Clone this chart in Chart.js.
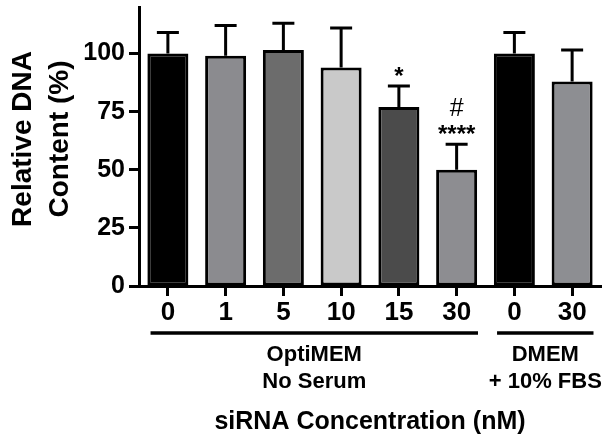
<!DOCTYPE html>
<html>
<head>
<meta charset="utf-8">
<script src="https://cdn.jsdelivr.net/npm/chart.js@4"></script>
<style>
  body { margin: 0; background: #fff; }
  #wrap { width: 608px; height: 443px; position: relative; }
</style>
</head>
<body>
<div id="wrap"><canvas id="dna-chart"></canvas></div>
<script>
// siRNA concentrations (nM) on the x axis
var concentrations = ['0', '1', '5', '10', '15', '30', '0', '30'];
// relative DNA content (%) and upper error (SD)
var dnaContent = [100, 99, 101.5, 94, 77, 50, 100, 88];
var dnaError = [9, 13, 11.5, 17, 9, 11, 9, 13.5];
var barColors = ['#000000', '#8b8b8f', '#6c6c6c', '#c9c9c9', '#4b4b4b', '#8d8d91', '#000000', '#8d8e92'];
// significance marks
var starMarks = ['', '', '', '', '*', '****', '', ''];
var hashMarks = ['', '', '', '', '', '#', '', ''];
// media groups under the axis
var groupNames = [['OptiMEM', 'No Serum'], ['DMEM', '+ 10% FBS']];
var groupFrom = [0, 6];
var groupTo = [5, 7];
var yTicks = [0, 25, 50, 75, 100];

var fontFamily = "'Liberation Sans', Arial, Helvetica, sans-serif";

var extrasPlugin = {
  id: 'extras',
  afterDatasetsDraw: function(chart) {
    var ctx = chart.ctx;
    var meta = chart.getDatasetMeta(0);
    var yScale = chart.scales.y;
    ctx.save();
    ctx.strokeStyle = '#000';
    ctx.fillStyle = '#000';
    ctx.lineWidth = 3;
    for (var i = 0; i < dnaContent.length; i++) {
      var x = meta.data[i].x;
      var yTop = yScale.getPixelForValue(dnaContent[i]);
      var yErr = yScale.getPixelForValue(dnaContent[i] + dnaError[i]);
      ctx.beginPath();
      ctx.moveTo(x, yTop);
      ctx.lineTo(x, yErr);
      ctx.moveTo(x - 11, yErr);
      ctx.lineTo(x + 11, yErr);
      ctx.stroke();

      ctx.textAlign = 'center';
      ctx.textBaseline = 'middle';
      if (starMarks[i]) {
        ctx.font = 'bold 24px ' + fontFamily;
        ctx.fillText(starMarks[i], x, yErr - 9);
      }
      if (hashMarks[i]) {
        ctx.font = '25px ' + fontFamily;
        ctx.fillText(hashMarks[i], x, yErr - 35);
      }
    }
    ctx.restore();
  },
  afterDraw: function(chart) {
    var ctx = chart.ctx;
    var xScale = chart.scales.x;
    var area = chart.chartArea;
    var step = xScale.getPixelForValue(1) - xScale.getPixelForValue(0);
    ctx.save();
    ctx.strokeStyle = '#000';
    ctx.fillStyle = '#000';
    ctx.lineWidth = 3.5;
    ctx.textAlign = 'center';
    ctx.textBaseline = 'middle';
    ctx.font = 'bold 22px ' + fontFamily;
    for (var g = 0; g < groupNames.length; g++) {
      var x1 = xScale.getPixelForValue(groupFrom[g]) - step * 0.3;
      var x2 = xScale.getPixelForValue(groupTo[g]) + step * 0.37;
      var yLine = area.bottom + 47;
      ctx.beginPath();
      ctx.moveTo(x1, yLine);
      ctx.lineTo(x2, yLine);
      ctx.stroke();
      var cx = (x1 + x2) / 2;
      ctx.fillText(groupNames[g][0], cx, yLine + 22);
      ctx.fillText(groupNames[g][1], cx, yLine + 49);
    }

    // y axis title, two lines
    ctx.font = 'bold 28px ' + fontFamily;
    var lines = ['Relative DNA', 'Content (%)'];
    for (var k = 0; k < lines.length; k++) {
      ctx.save();
      ctx.translate(23 + k * 37, 139);
      ctx.rotate(-Math.PI / 2);
      ctx.fillText(lines[k], 0, 0);
      ctx.restore();
    }
    ctx.restore();
  }
};

var ctx = document.getElementById('dna-chart').getContext('2d');
var chart = new Chart(ctx, {
  type: 'bar',
  data: {
    labels: concentrations,
    datasets: [{
      label: 'Relative DNA Content',
      data: dnaContent,
      backgroundColor: barColors,
      borderColor: '#000',
      borderWidth: 3,
      borderSkipped: false,
      barPercentage: 0.71,
      categoryPercentage: 1
    }]
  },
  options: {
    responsive: true,
    maintainAspectRatio: false,
    animation: false,
    layout: { padding: { top: 7, right: 7, left: 0, bottom: 0 } },
    plugins: {
      legend: { display: false },
      tooltip: { enabled: false }
    },
    scales: {
      x: {
        grid: {
          offset: false,
          drawOnChartArea: false,
          drawTicks: true,
          tickLength: 10,
          tickWidth: 3,
          tickColor: '#000'
        },
        border: { display: true, color: '#000', width: 3 },
        ticks: {
          color: '#000',
          padding: 1,
          maxRotation: 0,
          font: { family: fontFamily, size: 26, weight: 'bold' }
        },
        title: {
          display: true,
          text: 'siRNA Concentration (nM)',
          color: '#000',
          font: { family: fontFamily, size: 25, weight: 'bold' },
          padding: { top: 0, bottom: 6 }
        },
        afterFit: function(scale) {
          scale.height = 157;
          scale.paddingLeft = 0;
          scale.paddingRight = 0;
        }
      },
      y: {
        min: 0,
        max: 120,
        grid: {
          drawOnChartArea: false,
          drawTicks: true,
          tickLength: 10,
          tickWidth: 3,
          tickColor: '#000'
        },
        border: { display: true, color: '#000', width: 3 },
        ticks: {
          stepSize: 25,
          color: '#000',
          padding: 4,
          font: { family: fontFamily, size: 25, weight: 'bold' }
        },
        afterBuildTicks: function(scale) {
          scale.ticks = yTicks.map(function(v) { return { value: v }; });
        },
        afterFit: function(scale) {
          scale.width = 139;
          scale.paddingTop = 0;
          scale.paddingBottom = 0;
        }
      }
    }
  },
  plugins: [extrasPlugin]
});
</script>
</body>
</html>
